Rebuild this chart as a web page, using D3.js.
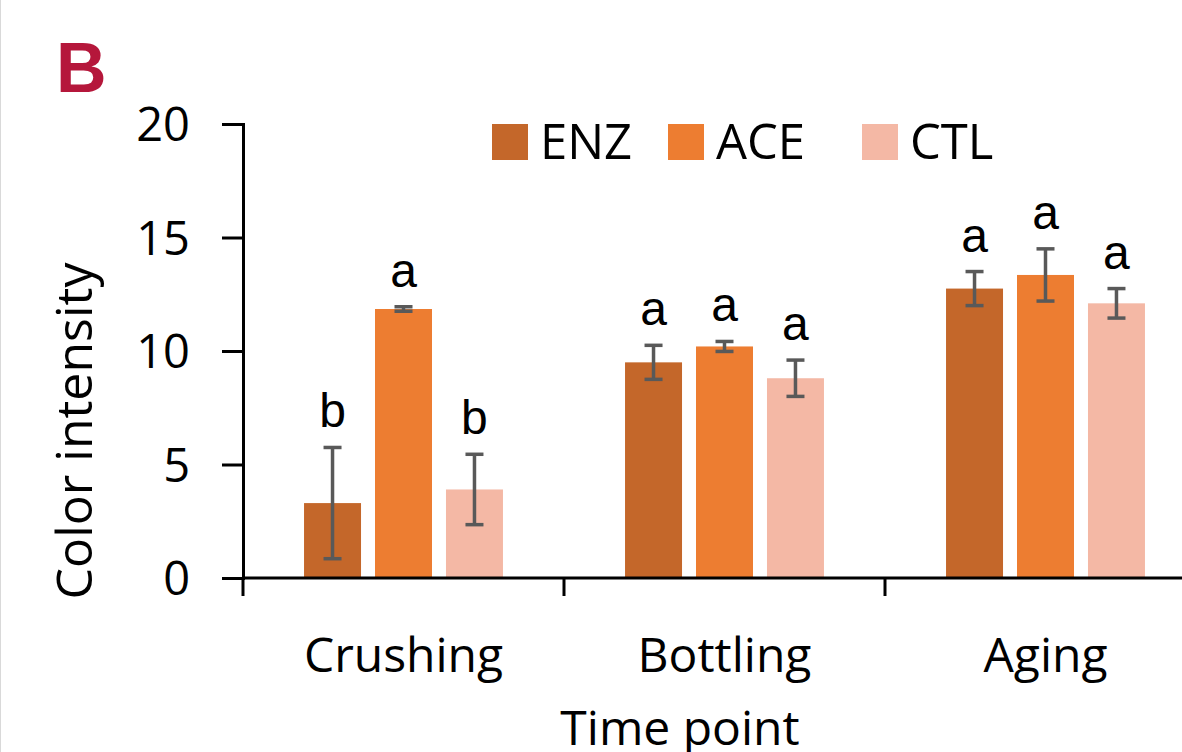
<!DOCTYPE html>
<html>
<head>
<meta charset="utf-8">
<script src="https://cdn.jsdelivr.net/npm/d3@7"></script>
<style>
  html, body { margin: 0; padding: 0; background: #fff; }
  svg { display: block; }
</style>
</head>
<body>
<svg id="chart" width="1182" height="752"></svg>
<script>
// chart data
const categories = ['Crushing', 'Bottling', 'Aging']
const series = ['ENZ', 'ACE', 'CTL']
const means = {
  ENZ: [3.3, 9.5, 12.75],
  ACE: [11.85, 10.2, 13.35],
  CTL: [3.9, 8.8, 12.1]
}
const errors = {
  ENZ: [2.45, 0.75, 0.75],
  ACE: [0.1, 0.22, 1.15],
  CTL: [1.55, 0.8, 0.65]
}
const letters = {
  ENZ: ['b', 'a', 'a'],
  ACE: ['a', 'a', 'a'],
  CTL: ['b', 'a', 'a']
}
const yTicks = [0, 5, 10, 15, 20]

const colors = { ENZ: '#C4672A', ACE: '#ED7D31', CTL: '#F4B8A5' }
const FONT = '"Open Sans", sans-serif'

const svg = d3.select('#chart')

// thin page edge on the left
svg.append('line')
  .attr('x1', 0.5).attr('x2', 0.5).attr('y1', 0).attr('y2', 752)
  .attr('stroke', '#d9d9d9').attr('stroke-width', 1)

const x0 = d3.scaleBand()
  .domain(categories.concat(['']))
  .range([243, 243 + 4 * 321])
const x1 = d3.scaleBand()
  .domain(series)
  .range([0, x0.bandwidth()])
  .paddingInner(0.197)
  .paddingOuter(0.86)
const y = d3.scaleLinear().domain([0, 20]).range([578, 124])

// panel letter
svg.append('text')
  .attr('x', 56).attr('y', 92)
  .attr('font-family', '"Liberation Sans", Arial, sans-serif')
  .attr('font-weight', 'bold')
  .attr('font-size', 70)
  .attr('fill', '#B5173B')
  .text('B')

// bars
const rows = []
series.forEach(s => {
  categories.forEach((c, i) => {
    rows.push({ s, c, v: means[s][i], e: errors[s][i], l: letters[s][i] })
  })
})

const bars = svg.append('g').attr('class', 'bars')
bars.selectAll('rect')
  .data(rows)
  .enter().append('rect')
  .attr('x', d => x0(d.c) + x1(d.s))
  .attr('y', d => y(d.v))
  .attr('width', x1.bandwidth())
  .attr('height', d => y(0) - y(d.v))
  .attr('fill', d => colors[d.s])

// error bars
const err = svg.append('g').attr('class', 'errors')
  .attr('stroke', '#595959').attr('stroke-width', 3.5)
const cx = d => x0(d.c) + x1(d.s) + x1.bandwidth() / 2
err.selectAll('line.v').data(rows).enter().append('line')
  .attr('class', 'v')
  .attr('x1', cx).attr('x2', cx)
  .attr('y1', d => y(d.v + d.e)).attr('y2', d => y(d.v - d.e))
err.selectAll('line.t').data(rows).enter().append('line')
  .attr('class', 't')
  .attr('x1', d => cx(d) - 9).attr('x2', d => cx(d) + 9)
  .attr('y1', d => y(d.v + d.e)).attr('y2', d => y(d.v + d.e))
err.selectAll('line.b').data(rows).enter().append('line')
  .attr('class', 'b')
  .attr('x1', d => cx(d) - 9).attr('x2', d => cx(d) + 9)
  .attr('y1', d => y(d.v - d.e)).attr('y2', d => y(d.v - d.e))

// significance letters
svg.append('g').selectAll('text')
  .data(rows)
  .enter().append('text')
  .attr('x', cx)
  .attr('y', d => y(d.v + d.e) - 20)
  .attr('text-anchor', 'middle')
  .attr('font-family', '"Liberation Sans", Arial, sans-serif')
  .attr('font-size', 48)
  .attr('fill', '#000')
  .text(d => d.l)

// y axis
const yAxis = svg.append('g')
  .attr('transform', 'translate(243,0)')
  .call(d3.axisLeft(y).tickValues(yTicks).tickSize(21).tickPadding(32))
yAxis.select('.domain').attr('stroke', '#000').attr('stroke-width', 3)
yAxis.selectAll('.tick line').attr('stroke', '#000').attr('stroke-width', 3)
yAxis.selectAll('.tick text')
  .attr('font-family', FONT).attr('font-size', 47).attr('fill', '#000')
  .attr('dy', '0.36em')

// x axis: ticks at the category boundaries
const xAxis = svg.append('g')
  .attr('transform', `translate(0,${y(0)})`)
xAxis.append('line')
  .attr('x1', 242).attr('x2', 1182)
  .attr('stroke', '#000').attr('stroke-width', 3)
xAxis.selectAll('line.tick')
  .data(categories)
  .enter().append('line')
  .attr('class', 'tick')
  .attr('x1', d => x0(d)).attr('x2', d => x0(d))
  .attr('y1', 0).attr('y2', 18)
  .attr('stroke', '#000').attr('stroke-width', 3)
xAxis.selectAll('text')
  .data(categories)
  .enter().append('text')
  .attr('x', d => x0(d) + x0.bandwidth() / 2)
  .attr('y', 94)
  .attr('text-anchor', 'middle')
  .attr('font-family', FONT).attr('font-size', 48).attr('fill', '#000')
  .text(d => d)

// axis titles
svg.append('text')
  .attr('transform', 'translate(92,431) rotate(-90)')
  .attr('text-anchor', 'middle')
  .attr('font-family', FONT).attr('font-size', 50).attr('fill', '#000')
  .text('Color intensity')
svg.append('text')
  .attr('x', 680).attr('y', 745)
  .attr('text-anchor', 'middle')
  .attr('font-family', FONT).attr('font-size', 48).attr('fill', '#000')
  .text('Time point')

// legend
const legendX = [492, 668, 862]
const legend = svg.append('g').selectAll('g')
  .data(series)
  .enter().append('g')
  .attr('transform', (d, i) => `translate(${legendX[i]},124)`)
legend.append('rect')
  .attr('width', 36).attr('height', 36)
  .attr('fill', d => colors[d])
legend.append('text')
  .attr('x', 48).attr('y', 35)
  .attr('font-family', FONT).attr('font-size', 49).attr('fill', '#000')
  .text(d => d)
</script>
</body>
</html>
